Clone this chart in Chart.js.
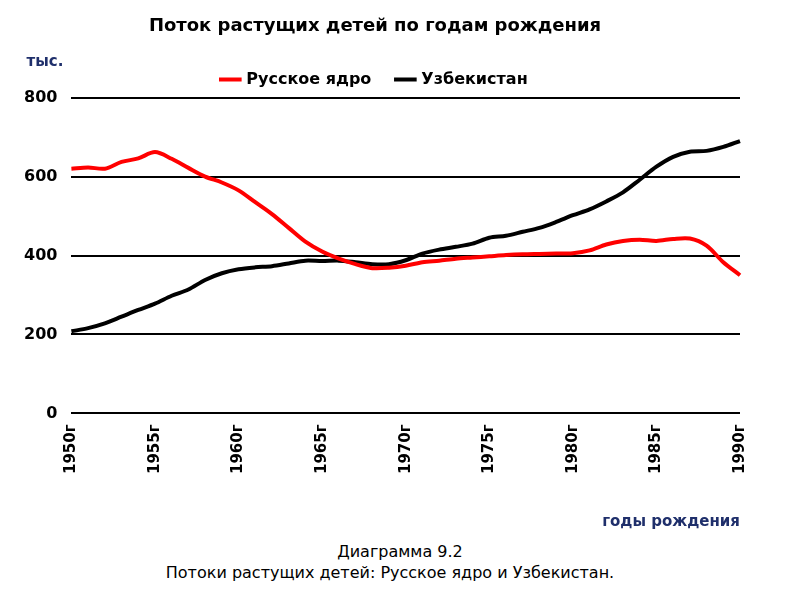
<!DOCTYPE html>
<html><head><meta charset="utf-8">
<script src="https://cdn.jsdelivr.net/npm/chart.js@4"></script>
<style>
body{margin:0;background:#fff;font-family:"DejaVu Sans",sans-serif}
#wrap{position:relative;width:800px;height:535px}
.cap{text-align:center;font-size:16px;color:#000;line-height:21px}
</style></head><body>
<div id="wrap"><canvas id="c"></canvas></div>
<div class="cap" style="margin-top:6px">Диаграмма 9.2</div>
<div class="cap" style="margin-left:-20px">Потоки растущих детей: Русское ядро и Узбекистан.</div>
<script>
var years = [];
for (var y = 1950; y <= 1990; y++) years.push(y + 'г');
var russian = [620,623,620,637,646,662,645,622,600,585,565,535,505,470,435,410,392,378,368,369,374,383,387,392,395,398,401,403,404,405,406,413,428,437,440,437,442,443,425,383,350];
var uzbek = [208,216,228,245,262,278,298,314,338,355,365,370,373,380,387,386,387,383,378,378,388,405,415,422,430,445,450,460,470,485,502,517,537,560,592,625,650,663,665,675,690];
var yTicks = [0,200,400,600,800];

var unitLabel = {
  id: 'unitLabel',
  afterDraw: function(chart) {
    var c = chart.ctx;
    c.save();
    c.font = 'bold 15px "DejaVu Sans"';
    c.fillStyle = '#1f2f6b';
    c.textAlign = 'center';
    c.fillText('тыс.', 45, 62);
    c.restore();
  }
};

new Chart(document.getElementById('c'), {
  type: 'line',
  data: {
    labels: years,
    datasets: [
      {label: 'Русское ядро', data: russian, borderColor: '#ff0000', backgroundColor: '#ff0000', borderWidth: 4, pointRadius: 0, tension: 0.3},
      {label: 'Узбекистан', data: uzbek, borderColor: '#000000', backgroundColor: '#000000', borderWidth: 4, pointRadius: 0, tension: 0.3}
    ]
  },
  options: {
    responsive: true, maintainAspectRatio: false, animation: false,
    layout: {padding: {left: 10, right: 60, top: 8}},
    plugins: {
      title: {display: true, text: 'Поток растущих детей по годам рождения', color: '#000',
        font: {family: 'DejaVu Sans', size: 18, weight: 'bold'}, padding: {top: 8, bottom: 8}},
      legend: {position: 'top', labels: {usePointStyle: true, pointStyle: 'line', boxWidth: 40, color: '#000',
        font: {family: 'DejaVu Sans', size: 16, weight: 'bold'}, padding: 26}},
      tooltip: {enabled: false}
    },
    scales: {
      x: {
        grid: {display: false}, border: {display: false},
        ticks: {autoSkip: false, maxRotation: 90, minRotation: 90, color: '#000',
          font: {family: 'DejaVu Sans', size: 15, weight: 'bold'},
          callback: function(v, i) { return (i % 5 === 0) ? years[i] : ''; }},
        title: {display: true, text: 'годы рождения', align: 'end', color: '#1f2f6b',
          font: {family: 'DejaVu Sans', size: 15, weight: 'bold'}, padding: {top: 36}}
      },
      y: {
        min: 0, max: 800,
        afterBuildTicks: function(ax) { ax.ticks = yTicks.map(function(v){ return {value: v}; }); },
        grid: {color: '#000', lineWidth: 2, drawTicks: false}, border: {display: false},
        ticks: {color: '#000', padding: 14, font: {family: 'DejaVu Sans', size: 16, weight: 'bold'}}
      }
    }
  },
  plugins: [unitLabel]
});
</script></body></html>
